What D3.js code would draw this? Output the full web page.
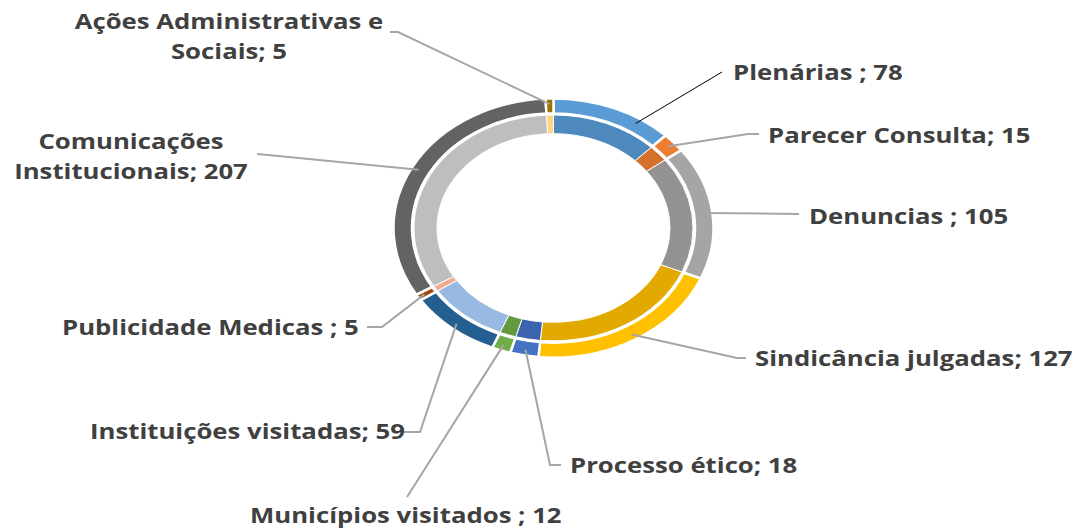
<!DOCTYPE html>
<html>
<head>
<meta charset="utf-8">
<script src="https://cdn.jsdelivr.net/npm/d3@7"></script>
<style>
  html, body { margin: 0; padding: 0; background: #ffffff; }
  svg { display: block; }
  text { font-family: "Open Sans", "DejaVu Sans", sans-serif; font-weight: 700; fill: #404040; }
</style>
</head>
<body>
<svg id="chart" width="1078" height="530"></svg>
<script>
// ---- data ----
const categories = ["Plenárias ", "Parecer Consulta", "Denuncias ", "Sindicância julgadas",
  "Processo ético", "Municípios visitados ", "Instituições visitadas", "Publicidade Medicas ",
  "Comunicações Institucionais", "Ações Administrativas e Sociais"];
const values = [78, 15, 105, 127, 18, 12, 59, 5, 207, 5];
const innerValues = [78, 15, 105, 127, 18, 12, 59, 5, 207, 5];
const outerColors = ["#5B9BD5", "#ED7D31", "#A5A5A5", "#FFC000", "#4472C4", "#70AD47",
  "#255E91", "#9E480E", "#636363", "#997300"];
const innerColors = ["#4E89BE", "#D4702C", "#939393", "#E2AA00", "#3D64AE", "#629A3F",
  "#98BAE2", "#F2AA8E", "#BEBEBE", "#FFD47E"];

// label layout (text lines, position, leader elbow points, anchor fraction within the slice)
const labelLines = [
  ["Plenárias ; 78"], ["Parecer Consulta; 15"], ["Denuncias ; 105"], ["Sindicância julgadas; 127"],
  ["Processo ético; 18"], ["Municípios visitados ; 12"], ["Instituições visitadas; 59"],
  ["Publicidade Medicas ; 5"], ["Comunicações", "Institucionais; 207"], ["Ações Administrativas e", "Sociais; 5"]
];
const labelPos = [
  {x: 733, y: 80, anchor: "start"},
  {x: 768, y: 143, anchor: "start"},
  {x: 809, y: 224, anchor: "start"},
  {x: 755, y: 366, anchor: "start"},
  {x: 570, y: 473, anchor: "start"},
  {x: 250, y: 523, anchor: "start"},
  {x: 90, y: 439, anchor: "start"},
  {x: 62, y: 335, anchor: "start"},
  {x: 131, y: 149, anchor: "middle"},
  {x: 229, y: 29, anchor: "middle"}
];
const leaderElbows = [
  [[722, 72]],
  [[759, 134], [748, 134]],
  [[799, 214]],
  [[746, 358], [737, 358]],
  [[561, 465], [550, 465]],
  [[407, 497]],
  [[404, 432], [420, 432]],
  [[367, 327], [382, 327]],
  [[257, 154], [268, 155]],
  [[390, 32], [398, 32]]
];
const anchorFrac = [0.73, 0.5, 0.5, 0.5, 0.5, 0.5, 0.5, 0.5, 0.5, 0.5];

// ---- drawing ----
const svg = d3.select("#chart");
const cx = 553.5, cy = 228, sy = 0.81;
const g = svg.append("g").attr("transform", `translate(${cx},${cy}) scale(1,${sy})`);

const pie = d3.pie().sort(null).value(d => d);
const outerArcs = pie(values);
const innerArcs = pie(innerValues);

const outerArc = d3.arc().innerRadius(141.5).outerRadius(160);
const innerArc = d3.arc().innerRadius(116.5).outerRadius(139.5);

g.selectAll("path.inner").data(innerArcs).join("path")
  .attr("class", "inner")
  .attr("d", innerArc)
  .attr("fill", (d, i) => innerColors[i])
  .attr("stroke", "#fff").attr("stroke-width", 1)
  .attr("vector-effect", "non-scaling-stroke");

g.selectAll("path.outer").data(outerArcs).join("path")
  .attr("class", "outer")
  .attr("d", outerArc)
  .attr("fill", (d, i) => outerColors[i])
  .attr("stroke", "#fff").attr("stroke-width", 2.5)
  .attr("vector-effect", "non-scaling-stroke");

// leader lines
const rLead = 153;
const line = d3.line();
outerArcs.forEach((d, i) => {
  const a = d.startAngle + anchorFrac[i] * (d.endAngle - d.startAngle);
  const p = [cx + rLead * Math.sin(a), cy - rLead * Math.cos(a) * sy];
  const pts = leaderElbows[i].concat([p]);
  svg.append("path")
    .attr("d", line(pts))
    .attr("fill", "none")
    .attr("stroke", i === 0 ? "#000000" : "#A6A6A6")
    .attr("stroke-width", i === 0 ? 1 : 2);
});

// labels
const sx = 1.17;
labelLines.forEach((lines, i) => {
  const p = labelPos[i];
  const tg = svg.append("g").attr("transform", `translate(${p.x},${p.y}) scale(${sx},1)`);
  lines.forEach((t, j) => {
    tg.append("text")
      .attr("x", 0).attr("y", j * 30)
      .attr("text-anchor", p.anchor)
      .attr("font-size", 22)
      .text(t);
  });
});
</script>
</body>
</html>
